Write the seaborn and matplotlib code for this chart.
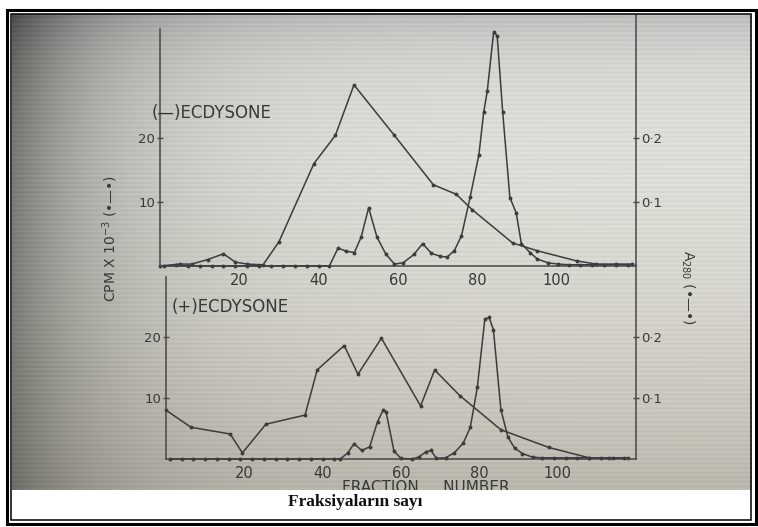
import numpy as np
import matplotlib
matplotlib.use("Agg")
import matplotlib.pyplot as plt
import seaborn as sns
from matplotlib.patches import Rectangle

# ---- (-) ecdysone: radioactivity (CPM x 10^-3) per fraction ----
frac_minus_cpm = [0, 5, 8, 12, 16, 19, 22, 26, 30, 38.8, 44.2, 48.9, 59.1, 68.9,
                  74.7, 78.7, 88.9, 95, 105, 110, 115, 119]
cpm_minus = [0, 0.3, 0.3, 1.0, 1.9, 0.6, 0.3, 0.2, 3.8, 16.0, 20.4, 28.3, 20.4, 12.7,
             11.2, 8.8, 3.6, 2.4, 0.8, 0.3, 0.3, 0.3]

# ---- (-) ecdysone: absorbance at 280 nm ----
frac_minus_a280 = [1, 4, 7, 10, 13, 16, 19, 22, 25, 28, 31, 34, 37, 40, 42.7, 44.9,
                   47, 49, 50.7, 52.6, 54.7, 56.9, 59.1, 61.3, 64, 66.2, 68.4, 70.7,
                   72.4, 74.2, 76, 78.2, 80.4, 81.6, 82.5, 84.1, 85, 86.4, 88.2, 89.8,
                   91.1, 93.3, 95.1, 97.8, 100.4, 103, 106, 109, 112, 115, 118]
a280_minus = [0.000, 0.001, 0.000, 0.000, 0.000, 0.000, 0.000, 0.000, 0.000, 0.000,
              0.000, 0.000, 0.000, 0.000, 0.000, 0.028, 0.023, 0.021, 0.045, 0.091,
              0.045, 0.019, 0.003, 0.005, 0.018, 0.035, 0.020, 0.015, 0.014, 0.024,
              0.047, 0.108, 0.174, 0.240, 0.273, 0.365, 0.360, 0.240, 0.107, 0.083,
              0.035, 0.021, 0.011, 0.005, 0.003, 0.002, 0.002, 0.002, 0.002, 0.002,
              0.002]

# ---- (+) ecdysone: radioactivity (CPM x 10^-3) per fraction ----
frac_plus_cpm = [0, 6.4, 16.4, 19.5, 25.5, 35.5, 38.6, 45.5, 49, 55, 65, 68.6, 75,
                 85.5, 97.7, 108, 113, 118]
cpm_plus = [8.0, 5.2, 4.1, 1.0, 5.7, 7.2, 14.6, 18.6, 13.9, 19.8, 8.7, 14.6, 10.4,
            4.8, 1.9, 0.2, 0.2, 0.2]

# ---- (+) ecdysone: absorbance at 280 nm ----
frac_plus_a280 = [1, 4, 7, 10, 13, 16, 19, 22, 25, 28, 31, 34, 37, 40, 43, 44.5,
                  46.4, 48, 50, 52, 54, 55.5, 56.2, 58.2, 60, 62.7, 64.5, 66.4, 67.7,
                  69, 71.4, 73.6, 75.9, 77.7, 79.5, 81.4, 82.5, 83.6, 85.5, 87.3, 89,
                  91, 93.6, 96, 99, 102, 105, 108, 111, 114, 117]
a280_plus = [0.000, 0.000, 0.000, 0.000, 0.000, 0.000, 0.000, 0.000, 0.000, 0.000,
             0.000, 0.000, 0.000, 0.000, 0.000, 0.000, 0.010, 0.025, 0.014, 0.020,
             0.061, 0.081, 0.077, 0.013, 0.001, 0.000, 0.003, 0.012, 0.014, 0.001,
             0.002, 0.010, 0.026, 0.052, 0.118, 0.229, 0.232, 0.212, 0.081, 0.036,
             0.018, 0.009, 0.003, 0.002, 0.002, 0.002, 0.002, 0.002, 0.002, 0.002,
             0.002]

x_ticks = [20, 40, 60, 80, 100]
cpm_ticks = [10, 20]
a280_ticks = [0.1, 0.2]
a280_tick_labels = ["0·1", "0·2"]
panel_labels = ["(—)ECDYSONE", "(+)ECDYSONE"]
left_label = r"CPM X 10$^{-3}$ (•—•)"
right_label = r"A$_{280}$ (•—•)"
x_label = "FRACTION     NUMBER"
caption = "Fraksiyaların sayı"

W, H = 758, 527
sns.set_style("ticks")
plt.rcParams["font.family"] = ["DejaVu Sans"]

INK = "#3c3c3c"
TXT = "#383838"

fig = plt.figure(figsize=(W / 100, H / 100), dpi=100)
fig.patch.set_facecolor("white")


def fx(px):
    return px / W


def fy(py):
    return 1 - py / H


# photographed sheet: uneven lighting with faint horizontal scan lines
bg = fig.add_axes([0, 0, 1, 1], zorder=-5)
bg.set_xlim(0, W)
bg.set_ylim(H, 0)
bg.axis("off")
xs = np.arange(12, 752) + 0.5
ys = np.arange(14, 490) + 0.5
X, Y = np.meshgrid(xs, ys)
v = (Y - 14) / 476
shade = (0.88 - 0.45 * (1 - 0.35 * v) * np.exp(-(X - 12) / 100)
         - 0.14 * np.exp(-(Y - 14) / 45) - 0.16 * v ** 2.5)
shade = shade + 0.018 * np.sin(2 * np.pi * Y / 4.6)
rgb = np.dstack([shade, shade, shade * (1 - 0.05 * v)]).clip(0, 1)
bg.imshow(rgb, extent=[12, 752, 490, 14], aspect="auto", interpolation="bilinear")

# axis label along the bottom of the sheet (partly covered by the caption band)
bg.text(426, 487, x_label, ha="center", va="center", fontsize=11, color=TXT)


def style_panel(ax, axr, ymax, left_top):
    ax.set_facecolor("none")
    axr.set_facecolor("none")
    ax.set_xlim(0, 120)
    ax.set_ylim(0, ymax)
    axr.set_ylim(0, ymax / 100)
    for s in ["top", "right"]:
        ax.spines[s].set_visible(False)
    for s in ["top", "left", "bottom"]:
        axr.spines[s].set_visible(False)
    for a in (ax, axr):
        for s in a.spines.values():
            s.set_color("#474747")
            s.set_linewidth(1.1)
    ax.spines["left"].set_bounds(0, left_top)
    ax.set_xticks(x_ticks)
    ax.set_xticklabels([str(t) for t in x_ticks])
    ax.set_yticks(cpm_ticks)
    ax.set_yticklabels([str(t) for t in cpm_ticks])
    axr.set_yticks(a280_ticks)
    axr.set_yticklabels(a280_tick_labels)
    ax.tick_params(axis="x", length=0, pad=5, labelsize=10.5, labelcolor=TXT)
    ax.tick_params(axis="y", direction="inout", length=5, width=1, color="#474747",
                   pad=1, labelsize=9.5, labelcolor=TXT)
    axr.tick_params(axis="y", direction="inout", length=5, width=1, color="#474747",
                    pad=1, labelsize=9.5, labelcolor=TXT)
    ax.set_xlabel("")
    ax.set_ylabel("")
    axr.set_ylabel("")


line_kw = dict(color=INK, linewidth=1.1, marker="o", markersize=2.8,
               markeredgewidth=0, clip_on=False)

# upper panel: (-) ecdysone
ax_t = fig.add_axes([fx(160), fy(266), (636 - 160) / W, (266 - 15) / H])
ax_tr = ax_t.twinx()
sns.lineplot(x=frac_minus_cpm, y=cpm_minus, ax=ax_t, **line_kw)
sns.lineplot(x=frac_minus_a280, y=a280_minus, ax=ax_tr, **line_kw)
style_panel(ax_t, ax_tr, 251 / 6.4, 37)
ax_t.text(-2, 23.9, panel_labels[0], ha="left", va="center", fontsize=12, color=TXT)

# lower panel: (+) ecdysone
ax_b = fig.add_axes([fx(166), fy(459), (636 - 166) / W, (459 - 277) / H])
ax_br = ax_b.twinx()
sns.lineplot(x=frac_plus_cpm, y=cpm_plus, ax=ax_b, **line_kw)
sns.lineplot(x=frac_plus_a280, y=a280_plus, ax=ax_br, **line_kw)
ymax_b = 182 / 6.1
style_panel(ax_b, ax_br, ymax_b, ymax_b)
# the right-hand scale line runs on up to the panel above
ax_br.spines["right"].set_bounds(0, (459 - 265) / 6.1 / 100)
ax_b.text(1.5, 24.9, panel_labels[1], ha="left", va="center", fontsize=12, color=TXT)

# rotated scale titles
fig.text(fx(110), fy(238), left_label, rotation=90, ha="center", va="center",
         fontsize=10, color=TXT)
fig.text(fx(688), fy(287), right_label, rotation=270, ha="center", va="center",
         fontsize=10, color=TXT)

# caption band and double frame
ov = fig.add_axes([0, 0, 1, 1], zorder=10)
ov.set_xlim(0, W)
ov.set_ylim(H, 0)
ov.axis("off")
ov.add_patch(Rectangle((11, 490), 740, 29.5, facecolor="white", edgecolor="none"))
ov.add_patch(Rectangle((6.5, 9.5), 749, 514, fill=False, linewidth=2.2,
                       edgecolor="black"))
ov.add_patch(Rectangle((11, 13.5), 740, 506, fill=False, linewidth=1.1,
                       edgecolor="black"))
ov.text(355, 502, caption, ha="center", va="center", fontsize=12.5,
        family=["Liberation Serif", "DejaVu Serif"], weight="bold", color="#111111")

fig.savefig("out.png", dpi=100, facecolor="white")
